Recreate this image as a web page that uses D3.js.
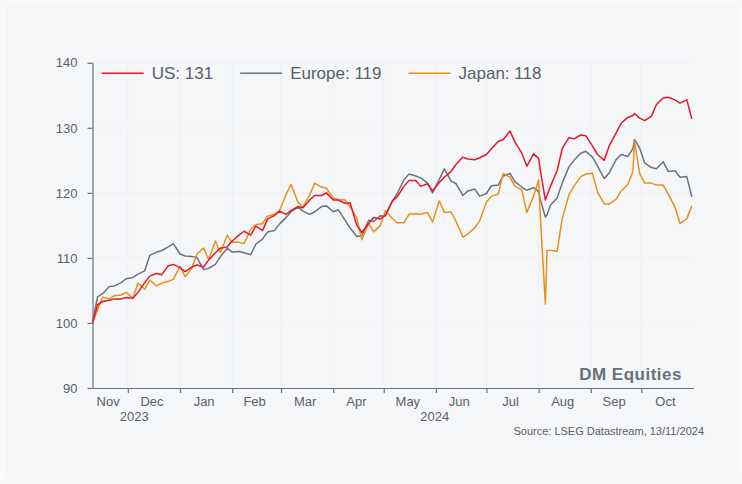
<!DOCTYPE html>
<html>
<head>
<meta charset="utf-8">
<script src="https://cdn.jsdelivr.net/npm/d3@7"></script>
<style>
  body { margin: 0; background: #fafafa; }
  svg { display: block; font-family: 'Liberation Sans', Arial, sans-serif; }
</style>
</head>
<body>
<script>
const dates = [
  '2023-11-10', '2023-11-13', '2023-11-16', '2023-11-20', '2023-11-23', '2023-11-27', '2023-11-30',
  '2023-12-04', '2023-12-07', '2023-12-11', '2023-12-14', '2023-12-18', '2023-12-21', '2023-12-25', '2023-12-28',
  '2024-01-01', '2024-01-04', '2024-01-08', '2024-01-11', '2024-01-15', '2024-01-18', '2024-01-22', '2024-01-25', '2024-01-29',
  '2024-02-01', '2024-02-05', '2024-02-08', '2024-02-12', '2024-02-15', '2024-02-19', '2024-02-22', '2024-02-26', '2024-02-29',
  '2024-03-04', '2024-03-07', '2024-03-11', '2024-03-14', '2024-03-18', '2024-03-21', '2024-03-25', '2024-03-28',
  '2024-04-01', '2024-04-04', '2024-04-08', '2024-04-11', '2024-04-15', '2024-04-18', '2024-04-22', '2024-04-25', '2024-04-29',
  '2024-05-02', '2024-05-06', '2024-05-09', '2024-05-13', '2024-05-16', '2024-05-20', '2024-05-23', '2024-05-27', '2024-05-30',
  '2024-06-03', '2024-06-06', '2024-06-10', '2024-06-13', '2024-06-17', '2024-06-20', '2024-06-24', '2024-06-27',
  '2024-07-01', '2024-07-04', '2024-07-08', '2024-07-11', '2024-07-15', '2024-07-18', '2024-07-22', '2024-07-25', '2024-07-29',
  '2024-08-01', '2024-08-02', '2024-08-05', '2024-08-06', '2024-08-08', '2024-08-12', '2024-08-15', '2024-08-19', '2024-08-22', '2024-08-26', '2024-08-29',
  '2024-09-02', '2024-09-05', '2024-09-09', '2024-09-12', '2024-09-16', '2024-09-19', '2024-09-23', '2024-09-26', '2024-09-27', '2024-09-30',
  '2024-10-03', '2024-10-07', '2024-10-10', '2024-10-14', '2024-10-17', '2024-10-21', '2024-10-24', '2024-10-28', '2024-10-31'
];

const us = [
  100, 102.8, 103.3, 103.5, 103.7, 103.7, 103.9,
  103.8, 104.7, 106.2, 107.2, 107.6, 107.4, 108.8, 109.0,
  108.5, 107.9, 108.6, 108.9, 108.6, 109.7, 110.8, 111.5, 111.7,
  112.6, 113.5, 114.1, 113.5, 114.9, 114.2, 116.0, 116.5, 117.2,
  116.7, 117.3, 117.9, 117.7, 118.9, 119.6, 119.6, 120.0,
  118.9, 118.9, 118.4, 118.5, 115.0, 113.9, 115.3, 116.2, 116.0,
  116.6, 118.7, 119.4, 121.0, 121.9, 121.9, 121.0, 121.4, 120.3,
  121.6, 122.4, 123.3, 124.4, 125.5, 125.2, 125.1, 125.4,
  125.9, 126.8, 127.9, 128.2, 129.5, 127.8, 126.1, 124.1, 126.0,
  125.3, 123.5, 118.9, 119.6, 121.0, 123.4, 126.8, 128.5, 128.3, 128.9, 128.8,
  127.2, 125.9, 125.0, 127.3, 129.2, 130.7, 131.6, 131.9, 132.2, 131.5,
  131.1, 131.8, 133.6, 134.6, 134.7, 134.3, 133.8, 134.3, 131.4
];

const europe = [
  100, 104.0, 104.5, 105.6, 105.7, 106.2, 106.8,
  107.0, 107.5, 108.0, 110.4, 110.9, 111.1, 111.7, 112.2,
  110.6, 110.3, 110.2, 110.1, 108.2, 108.4, 109.0, 110.2, 111.5,
  110.9, 111.0, 110.8, 110.5, 112.1, 112.9, 114.0, 114.2, 115.2,
  116.2, 117.1, 117.8, 117.2, 116.7, 117.1, 117.9, 118.0,
  117.1, 117.4, 115.8, 114.6, 113.3, 113.4, 115.8, 115.6, 116.5,
  116.4, 118.7, 119.9, 122.0, 122.9, 122.6, 122.3, 121.5, 120.0,
  122.1, 123.7, 121.8, 121.4, 119.6, 120.3, 120.6, 119.5,
  119.9, 121.1, 121.2, 122.6, 123.0, 121.7, 120.9, 120.4, 120.8,
  120.2, 119.0, 116.3, 116.6, 118.1, 119.2, 121.5, 124.0, 125.0, 126.1, 126.4,
  125.5, 124.1, 122.2, 123.1, 125.1, 125.9, 125.6, 126.8, 128.2, 126.9,
  124.6, 123.9, 123.7, 124.8, 123.3, 123.4, 122.4, 122.5, 119.4
];

const japan = [
  100, 102.0, 104.0, 103.7, 104.2, 104.3, 104.7,
  103.8, 106.1, 105.2, 106.6, 105.7, 106.1, 106.4, 106.7,
  108.7, 107.1, 108.4, 110.6, 111.5, 109.8, 112.6, 110.8, 113.5,
  112.4, 112.4, 112.2, 114.4, 115.1, 115.3, 116.4, 116.7, 117.2,
  119.8, 121.3, 118.6, 117.8, 119.7, 121.5, 120.9, 120.7,
  119.2, 119.0, 118.9, 117.9, 116.1, 112.8, 115.3, 114.0, 115.0,
  117.3, 116.1, 115.4, 115.4, 116.7, 116.8, 116.7, 117.0, 115.5,
  118.8, 117.0, 117.1, 115.6, 113.2, 113.7, 114.6, 115.7,
  118.6, 119.5, 119.8, 123.0, 122.4, 121.0, 120.5, 117.0, 119.5,
  122.0, 116.5, 102.9, 111.1, 111.2, 111.0, 116.0, 119.7, 121.0, 122.5, 122.9,
  123.0, 120.1, 118.3, 118.3, 119.0, 120.3, 121.3, 123.3, 127.9, 123.0,
  121.5, 121.5, 121.2, 121.2, 119.8, 117.8, 115.3, 116.0, 118.0
];

const seriesNames = ['US', 'Europe', 'Japan'];
const legendLabels = ['US: 131', 'Europe: 119', 'Japan: 118'];
const seriesColors = ['#e5172f', '#6c747b', '#e8901c'];
const monthLabels = ['Nov', 'Dec', 'Jan', 'Feb', 'Mar', 'Apr', 'May', 'Jun', 'Jul', 'Aug', 'Sep', 'Oct'];
const monthStarts = [
  '2023-12-01', '2024-01-01', '2024-02-01', '2024-03-01', '2024-04-01', '2024-05-01',
  '2024-06-01', '2024-07-01', '2024-08-01', '2024-09-01', '2024-10-01'
];
const yearLabels = ['2023', '2024'];
const yTicks = [90, 100, 110, 120, 130, 140];
const xDomain = ['2023-11-10', '2024-11-01'];

const parse = d3.timeParse('%Y-%m-%d');
const width = 742;
const height = 484;
const textColor = '#5b6067';
const axisColor = '#6d7379';

const svg = d3
  .select('body')
  .append('svg')
  .attr('width', width)
  .attr('height', height);

svg
  .append('rect')
  .attr('x', 5)
  .attr('y', 5)
  .attr('width', width - 10)
  .attr('height', height - 10)
  .attr('fill', '#f5f6f8');

const x = d3.scaleTime().domain(xDomain.map(parse)).range([92.5, 693.5]);
const y = d3.scaleLinear().domain([90, 140]).range([388, 62.8]);

// faint grid
svg
  .append('g')
  .selectAll('line')
  .data(monthStarts.map(parse))
  .enter()
  .append('line')
  .attr('x1', (d) => x(d))
  .attr('x2', (d) => x(d))
  .attr('y1', y(140))
  .attr('y2', y(90))
  .attr('stroke', '#eef0f3');

svg
  .append('g')
  .selectAll('line')
  .data(yTicks.slice(1))
  .enter()
  .append('line')
  .attr('x1', x.range()[0])
  .attr('x2', x.range()[1])
  .attr('y1', (d) => y(d))
  .attr('y2', (d) => y(d))
  .attr('stroke', '#eef0f3');

// axes
const yAxis = svg
  .append('g')
  .attr('transform', `translate(${x.range()[0]},0)`)
  .call(d3.axisLeft(y).tickValues(yTicks).tickSize(5).tickSizeOuter(0).tickPadding(10));

const xAxis = svg
  .append('g')
  .attr('transform', `translate(0,${y(90)})`)
  .call(
    d3.axisBottom(x)
      .tickValues(monthStarts.map(parse))
      .tickSize(5)
      .tickSizeOuter(0)
      .tickFormat('')
  );

[yAxis, xAxis].forEach((g) => {
  g.selectAll('path, line').attr('stroke', axisColor).attr('stroke-width', 1.2);
  g.selectAll('text')
    .attr('fill', textColor)
    .style('font-size', '13px')
    .style('font-family', "'Liberation Sans', Arial, sans-serif");
});

// month and year labels
const bounds = [parse(xDomain[0])].concat(monthStarts.map(parse), [parse(xDomain[1])]);
svg
  .append('g')
  .selectAll('text')
  .data(monthLabels)
  .enter()
  .append('text')
  .attr('x', (d, i) => (x(bounds[i]) + x(bounds[i + 1])) / 2 - 2)
  .attr('y', 406)
  .attr('text-anchor', 'middle')
  .attr('fill', textColor)
  .style('font-size', '13px')
  .text((d) => d);

const yearSpans = [
  [bounds[0], bounds[2]],
  [bounds[2], bounds[bounds.length - 1]]
];
svg
  .append('g')
  .selectAll('text')
  .data(yearLabels)
  .enter()
  .append('text')
  .attr('x', (d, i) => (x(yearSpans[i][0]) + x(yearSpans[i][1])) / 2 - 2)
  .attr('y', 421)
  .attr('text-anchor', 'middle')
  .attr('fill', textColor)
  .style('font-size', '13px')
  .text((d) => d);

// lines
const table = dates.map((d, i) => ({ date: parse(d), values: [us[i], europe[i], japan[i]] }));
const line = (k) =>
  d3
    .line()
    .x((d) => x(d.date))
    .y((d) => y(d.values[k]));

[1, 2, 0].forEach((k) => {
  svg
    .append('path')
    .datum(table)
    .attr('fill', 'none')
    .attr('stroke', seriesColors[k])
    .attr('stroke-width', 1.5)
    .attr('stroke-linejoin', 'round')
    .attr('d', line(k));
});

// legend
const legend = svg.append('g').attr('transform', 'translate(101.7,73.3)');
let offset = 0;
legendLabels.forEach((label, i) => {
  const item = legend.append('g').attr('transform', `translate(${offset},0)`);
  item
    .append('line')
    .attr('x1', 0)
    .attr('x2', 42)
    .attr('stroke', seriesColors[i])
    .attr('stroke-width', 1.5);
  const t = item
    .append('text')
    .attr('x', 50)
    .attr('y', 6)
    .attr('fill', textColor)
    .style('font-size', '17px')
    .text(label);
  offset += 50 + t.node().getComputedTextLength() + 27;
});

svg
  .append('text')
  .attr('x', 682)
  .attr('y', 380)
  .attr('text-anchor', 'end')
  .attr('fill', '#6b7077')
  .style('font-size', '17px')
  .style('font-weight', 'bold')
  .style('letter-spacing', '0.5px')
  .text('DM Equities');

svg
  .append('text')
  .attr('x', 704)
  .attr('y', 435)
  .attr('text-anchor', 'end')
  .attr('fill', textColor)
  .style('font-size', '11px')
  .text('Source: LSEG Datastream, 13/11/2024');
</script>
</body>
</html>
